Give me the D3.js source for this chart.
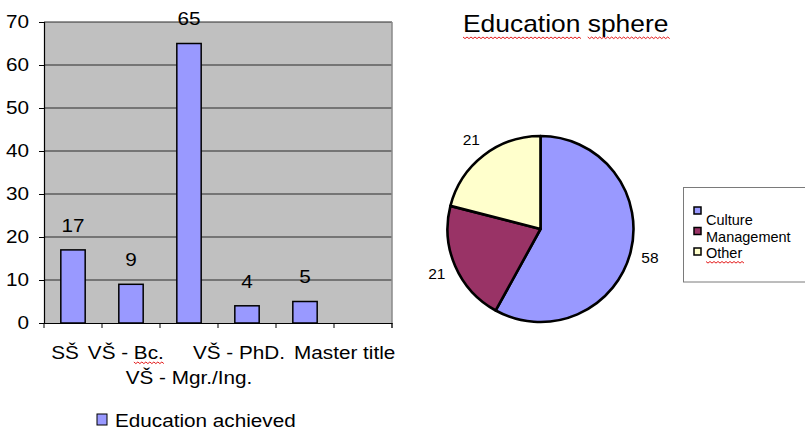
<!DOCTYPE html>
<html><head><meta charset="utf-8">
<script src="https://cdn.jsdelivr.net/npm/d3@7"></script>
<style>
body{margin:0;background:#fff;overflow:hidden}
text{font-family:"Liberation Sans",Arial,Helvetica,sans-serif;fill:#000}
</style>
</head><body>
<svg id="c" width="805" height="431"></svg>
<script>
// ---- data ----
const categories = ["SŠ", "VŠ - Bc.", "VŠ - Mgr./Ing.", "VŠ - PhD.", "Master title", ""];
const educationValues = [17, 9, 65, 4, 5, null];
const yTicks = [0, 10, 20, 30, 40, 50, 60, 70];
const barSeriesName = "Education achieved";
const pieTitle = "Education sphere";
const sphereCategories = ["Culture", "Management", "Other"];
const sphereValues = [58, 21, 21];
const sphereColors = ["#9999ff", "#993366", "#ffffcc"];
const barColor = "#9999ff";

// ---- drawing ----
const svg = d3.select("#c");
const SX = 1.12;     // horizontal text stretch seen in the reference (left chart)
const FS = 18.5;

function wavyPath(x0, x1, y) {
  let d = `M${x0},${y}`;
  for (let xx = x0, k = 0; xx < x1; xx += 2, k++) d += `L${xx + 2},${y + (k % 2 ? 0 : 1.6)}`;
  return d;
}
function wavy(x0, x1, y) {
  svg.append("path").attr("d", wavyPath(x0, x1, y)).attr("fill", "none")
    .attr("stroke", "#e41b1b").attr("stroke-width", 1);
}
function stretchedText(parent, str, cx, cy, anchor, size, sx) {
  return parent.append("text").text(str).attr("x", cx / sx).attr("y", cy)
    .attr("text-anchor", anchor).attr("font-size", size)
    .attr("transform", `scale(${sx},1)`);
}

// ===== Bar chart =====
const plot = {left: 44, right: 392, top: 22, bottom: 323};
const x = d3.scaleBand().domain(d3.range(categories.length)).range([plot.left, plot.right]);
const y = d3.scaleLinear().domain([0, 70]).range([plot.bottom, plot.top]);

svg.append("rect").attr("x", plot.left).attr("y", plot.top)
  .attr("width", plot.right - plot.left).attr("height", plot.bottom - plot.top)
  .attr("fill", "#c0c0c0");

svg.append("g").selectAll("line").data(yTicks.filter(d => d > 0)).join("line")
  .attr("x1", plot.left).attr("x2", plot.right)
  .attr("y1", d => y(d)).attr("y2", d => y(d))
  .attr("stroke", "#2a2a2a").attr("stroke-width", 1);

svg.append("line").attr("x1", plot.right).attr("x2", plot.right)
  .attr("y1", plot.top).attr("y2", plot.bottom + 5)
  .attr("stroke", "#8a8a8a").attr("stroke-width", 1.5);

const bw = x.bandwidth() * 0.42;
const barData = educationValues.map((v, i) => ({v, i})).filter(d => d.v != null);
svg.append("g").selectAll("rect").data(barData).join("rect")
  .attr("x", d => x(d.i) + x.bandwidth() / 2 - bw / 2)
  .attr("y", d => y(d.v))
  .attr("width", bw).attr("height", d => y(0) - y(d.v))
  .attr("fill", barColor).attr("stroke", "#000").attr("stroke-width", 1.5);

// value labels
const vl = svg.append("g");
barData.forEach(d => {
  stretchedText(vl, String(d.v), x(d.i) + x.bandwidth() / 2, y(d.v) - 18, "middle", FS, SX);
});

// y axis
const yAxis = svg.append("g").attr("transform", `translate(${plot.left},0)`)
  .call(d3.axisLeft(y).tickValues(yTicks).tickSize(5).tickPadding(10));
yAxis.select(".domain").attr("stroke", "#000").attr("stroke-width", 1.2);
yAxis.selectAll(".tick line").attr("stroke", "#000");
yAxis.selectAll(".tick text").attr("font-size", FS).each(function () {
  const t = d3.select(this);
  t.attr("x", +t.attr("x") / SX).attr("transform", `scale(${SX},1)`);
});

// x axis
const xAxis = svg.append("g").attr("transform", `translate(0,${plot.bottom})`)
  .call(d3.axisBottom(x).tickValues([]).tickSizeOuter(0));
xAxis.select(".domain").attr("stroke", "#000").attr("stroke-width", 1.2);
const bounds = d3.range(categories.length).map(i => x(i)).concat([plot.right]);
xAxis.selectAll("line.sep").data(bounds).join("line").attr("class", "sep")
  .attr("x1", d => d).attr("x2", d => d).attr("y1", 0).attr("y2", 5)
  .attr("stroke", "#000").attr("stroke-width", 1);

// category labels (second row for the staggered label)
const staggered = new Set([2]);
const labG = svg.append("g");
let lastRight = -Infinity;
categories.forEach((c, i) => {
  if (!c) return;
  const row = staggered.has(i) ? 1 : 0;
  const t = labG.append("text").text(c).attr("font-size", FS).attr("text-anchor", "start");
  const w = t.node().getComputedTextLength() * SX;
  let left = x(i) + x.bandwidth() / 2 - w / 2 - (row === 0 ? 8 : 0);
  if (row === 0) {
    if (left < lastRight + 9) left = lastRight + 9;
    lastRight = left + w;
  }
  const by = row === 0 ? 359 : 384;
  t.attr("x", left / SX).attr("y", by).attr("transform", `scale(${SX},1)`);
  if (c === "VŠ - Bc.") {
    const sub = t.node().getSubStringLength(0, 5) * SX;
    wavy(left + sub, left + w, 362);
  }
});

// bottom legend
svg.append("rect").attr("x", 97).attr("y", 414).attr("width", 10).attr("height", 11)
  .attr("fill", barColor).attr("stroke", "#000").attr("stroke-width", 1);
stretchedText(svg, barSeriesName, 115, 427, "start", FS, SX);

// ===== Pie chart =====
const R = 93;
const pieG = svg.append("g").attr("transform", "translate(540.5,229)");
const arcs = d3.pie().sort(null).value(d => d)(sphereValues);
const arc = d3.arc().innerRadius(0).outerRadius(R);
const labelArc = d3.arc().innerRadius(R + 20).outerRadius(R + 20);
pieG.selectAll("path").data(arcs).join("path")
  .attr("d", arc).attr("fill", (d, i) => sphereColors[i])
  .attr("stroke", "#000").attr("stroke-width", 2.6).attr("stroke-linejoin", "round");
pieG.selectAll("text").data(arcs).join("text")
  .attr("x", d => labelArc.centroid(d)[0]).attr("y", d => labelArc.centroid(d)[1])
  .attr("text-anchor", "middle").attr("dy", "0.36em")
  .attr("font-size", 15.5).text(d => d.data);

// title
const title = stretchedText(svg, pieTitle, 463, 32, "start", 24, 1.1);
const tl = title.node().getComputedTextLength() * 1.1;
const w1 = title.node().getSubStringLength(0, 9) * 1.1;
const w2 = title.node().getSubStringLength(0, 10) * 1.1;
wavy(463, 463 + w1, 37);
wavy(463 + w2, 463 + tl, 37);

// pie legend
svg.append("rect").attr("x", 683.5).attr("y", 187.5).attr("width", 140).attr("height", 94.5)
  .attr("fill", "#fff").attr("stroke", "#7a7a7a").attr("stroke-width", 1);
const ly = [207, 227.5, 248];
const tyBase = [225, 242, 257.5];
sphereCategories.forEach((c, i) => {
  svg.append("rect").attr("x", 694).attr("y", ly[i]).attr("width", 7).attr("height", 7)
    .attr("fill", sphereColors[i]).attr("stroke", "#000").attr("stroke-width", 1.5);
  const t = svg.append("text").attr("x", 706).attr("y", tyBase[i]).attr("font-size", 14.5).text(c);
  if (c === "Other") wavy(706, 706 + t.node().getComputedTextLength(), 261.5);
});
</script>
</body></html>
